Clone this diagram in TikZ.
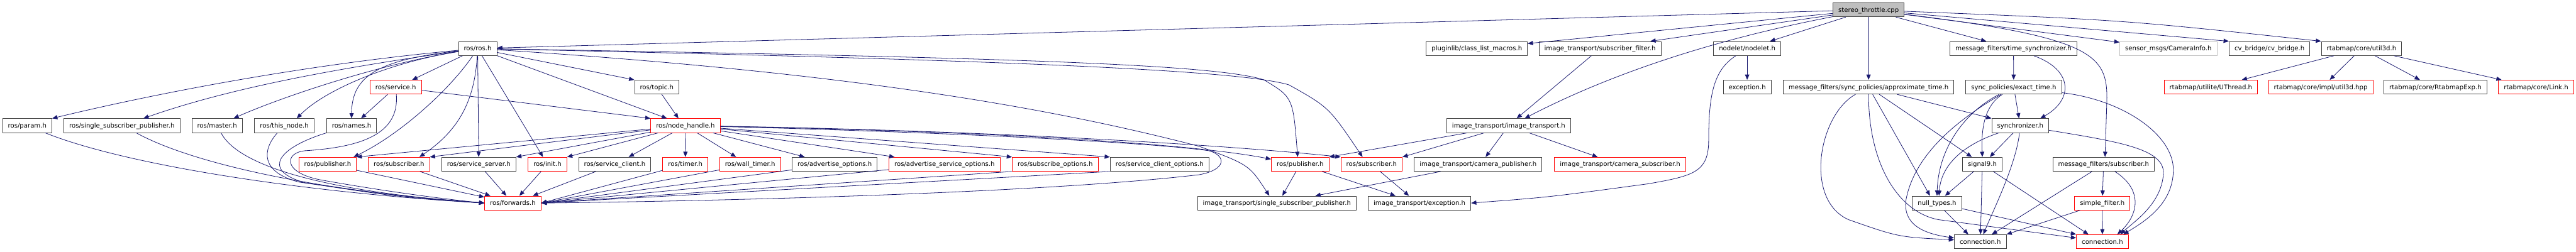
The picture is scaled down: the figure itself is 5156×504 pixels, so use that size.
\documentclass[tikz,border=0pt]{standalone}
\usepackage{fontspec}
\setmainfont{DejaVu Sans}
\usepackage{tikz}
\usetikzlibrary{arrows.meta}
\definecolor{edgeblue}{HTML}{191970}
\definecolor{boxline}{HTML}{404040}
\definecolor{shadegray}{HTML}{BFBFBF}
\newcommand{\incfont}{\fontsize{12.75pt}{15pt}\selectfont}
\tikzset{
  inc box/.style={
    draw=boxline, rectangle, line width=1.1pt,
    minimum height=28pt, inner xsep=10.8pt, inner ysep=0pt,
    text height=9.5pt, text depth=0.5pt,
    font=\incfont
  },
  red box/.style={inc box, draw=red},
  ext box/.style={inc box, draw=shadegray},
  root box/.style={inc box, fill=shadegray},
  inc arrow/.style={
    -{Triangle[length=10.5pt,width=8.5pt]}, draw=edgeblue, line width=1pt
  },
}

\begin{document}
\begin{tikzpicture}[x=1pt, y=-1pt]
  \useasboundingbox (0,0) rectangle (5156,504);

  % rank 0
  \node[root box] (st) at (3740,19.7) {stereo\_throttle.cpp};

  % rank 1
  \node[inc box] (ros) at (956,97.2) {ros/ros.h};
  \node[inc box] (plug) at (2956,97.2) {pluginlib/class\_list\_macros.h};
  \node[inc box] (isf) at (3202.5,97.2) {image\_transport/subscriber\_filter.h};
  \node[inc box] (nodelet) at (3497,97.2) {nodelet/nodelet.h};
  \node[inc box] (tsync) at (4030,97.2) {message\_filters/time\_synchronizer.h};
  \node[ext box] (caminfo) at (4340,97.2) {sensor\_msgs/CameraInfo.h};
  \node[inc box] (cvb) at (4542.5,97.2) {cv\_bridge/cv\_bridge.h};
  \node[inc box] (u3d) at (4726.7,97.2) {rtabmap/core/util3d.h};

  % rank 2
  \node[red box] (service) at (792,174.5) {ros/service.h};
  \node[inc box] (topic) at (1314.5,174.5) {ros/topic.h};
  \node[inc box] (exc) at (3497,174.5) {exception.h};
  \node[inc box] (approx) at (3740,174.5) {message\_filters/sync\_policies/approximate\_time.h};
  \node[inc box] (exact) at (4030.5,174.5) {sync\_policies/exact\_time.h};
  \node[red box] (uthread) at (4425,174.5) {rtabmap/utilite/UThread.h};
  \node[red box] (u3dhpp) at (4645,174.5) {rtabmap/core/impl/util3d.hpp};
  \node[inc box] (rexp) at (4874.5,174.5) {rtabmap/core/RtabmapExp.h};
  \node[red box] (link) at (5076,174.5) {rtabmap/core/Link.h};

  % rank 3
  \node[inc box] (param) at (54.5,251.7) {ros/param.h};
  \node[inc box] (ssp) at (244,251.7) {ros/single\_subscriber\_publisher.h};
  \node[inc box] (master) at (434.5,251.7) {ros/master.h};
  \node[inc box] (thisnode) at (569,251.7) {ros/this\_node.h};
  \node[inc box] (names) at (703.7,251.7) {ros/names.h};
  \node[red box] (nh) at (1372,251.7) {ros/node\_handle.h};
  \node[inc box] (itr) at (3019.7,251.7) {image\_transport/image\_transport.h};
  \node[inc box] (sync) at (4043.7,251.7) {synchronizer.h};

  % rank 4
  \node[red box] (pubA) at (655.7,329) {ros/publisher.h};
  \node[red box] (subA) at (798.5,329) {ros/subscriber.h};
  \node[inc box] (srvsrv) at (958.3,329) {ros/service\_server.h};
  \node[red box] (init) at (1095.8,329) {ros/init.h};
  \node[inc box] (srvcli) at (1230.3,329) {ros/service\_client.h};
  \node[red box] (timer) at (1371.8,329) {ros/timer.h};
  \node[red box] (wtimer) at (1501.3,329) {ros/wall\_timer.h};
  \node[inc box] (advopt) at (1670.7,329) {ros/advertise\_options.h};
  \node[red box] (advsrvopt) at (1890.5,329) {ros/advertise\_service\_options.h};
  \node[red box] (subopt) at (2112,329) {ros/subscribe\_options.h};
  \node[inc box] (srvcliopt) at (2321,329) {ros/service\_client\_options.h};
  \node[red box] (pubB) at (2602.3,329) {ros/publisher.h};
  \node[red box] (subB) at (2745.2,329) {ros/subscriber.h};
  \node[inc box] (campub) at (2958.5,329) {image\_transport/camera\_publisher.h};
  \node[red box] (camsub) at (3242.7,329) {image\_transport/camera\_subscriber.h};
  \node[inc box] (sig9) at (3967.7,329) {signal9.h};
  \node[inc box] (mfsub) at (4210.3,329) {message\_filters/subscriber.h};

  % rank 5
  \node[red box] (fwd) at (1026.5,406.7) {ros/forwards.h};
  \node[inc box] (itssp) at (2555.7,406.7) {image\_transport/single\_subscriber\_publisher.h};
  \node[inc box] (itexc) at (2841.2,406.7) {image\_transport/exception.h};
  \node[inc box] (nullt) at (3877,406.7) {null\_types.h};
  \node[red box] (sfilt) at (4207.8,406.7) {simple\_filter.h};

  % rank 6
  \node[inc box] (connA) at (3963.7,484) {connection.h};
  \node[red box] (connB) at (4208,484) {connection.h};

  % stereo_throttle.cpp
  \draw[inc arrow] (st) -- (ros);
  \draw[inc arrow] (st) -- (plug);
  \draw[inc arrow] (st) -- (isf);
  \draw[inc arrow] (st) .. controls (3400,85) and (3200,160) .. ([xshift=32pt]itr.north);
  \draw[inc arrow] (st) -- (nodelet);
  \draw[inc arrow] (st) -- (approx);
  \draw[inc arrow] (st) -- (tsync);
  \draw[inc arrow] (st) -- (caminfo);
  \draw[inc arrow] (st) -- (cvb.north west);
  \draw[inc arrow] (st) .. controls (4250,40) .. (u3d.north west);
  \draw[inc arrow] (st) .. controls (4190,75) and (4218,110) .. (4217,200) -- ([xshift=3pt]mfsub.north);

  % ros/ros.h
  \draw[inc arrow] (ros) .. controls (600,130) and (300,190) .. (param.north east);
  \draw[inc arrow] (ros) .. controls (650,140) and (450,180) .. ([xshift=43pt]ssp.north);
  \draw[inc arrow] (ros) .. controls (750,130) and (550,200) .. ([xshift=33pt]master.north);
  \draw[inc arrow] (ros) .. controls (780,125) and (650,180) .. ([xshift=25pt]thisnode.north);
  \draw[inc arrow] (ros) .. controls (760,120) and (704,150) .. (names.north);
  \draw[inc arrow] (ros) -- ([xshift=33pt]service.north);
  \draw[inc arrow] (ros) -- (topic.north west);
  \draw[inc arrow] (ros) -- ([xshift=-37pt]nh.north);
  \draw[inc arrow] (ros) -- (srvsrv);
  \draw[inc arrow] (ros) -- ([xshift=-9pt]init.north);
  \draw[inc arrow] (ros) .. controls (900,180) and (800,270) .. ([xshift=52pt]pubA.north);
  \draw[inc arrow] (ros) .. controls (950,200) and (920,260) .. ([xshift=41pt]subA.north);
  \draw[inc arrow] (ros) .. controls (2000,115) and (2430,128) .. (2530,160) .. controls (2588,195) .. ([xshift=-5pt]pubB.north);
  \draw[inc arrow] (ros) .. controls (2000,120) and (2480,140) .. (2580,170) .. controls (2660,215) .. ([xshift=-18pt]subB.north);
  \draw[inc arrow] (ros) .. controls (1700,145) and (2100,215) .. (2400,293) .. controls (2500,330) .. ([xshift=-15pt]itssp.north);

  % ros/service.h, ros/topic.h
  \draw[inc arrow] (service) -- ([xshift=19pt]names.north);
  \draw[inc arrow] (service) -- (nh.north west);
  \draw[inc arrow] (service) .. controls (800,270) and (720,295) .. (610,302) .. controls (570,306) and (565,345) .. (640,360) .. controls (780,385) and (900,400) .. (fwd.west);
  \draw[inc arrow] (topic) -- ([xshift=-14pt]nh.north);

  % rank 3 into ros/forwards.h
  \draw[inc arrow] (param) .. controls (250,330) and (600,385) .. (fwd.west);
  \draw[inc arrow] ([xshift=29pt]ssp.south) .. controls (370,320) and (600,380) .. (fwd.west);
  \draw[inc arrow] ([xshift=8pt]master.south) .. controls (470,320) and (600,380) .. (fwd.west);
  \draw[inc arrow] ([xshift=-14pt]thisnode.south) .. controls (525,300) and (520,345) .. (600,365) .. controls (800,393) .. (fwd.west);
  \draw[inc arrow] (names.south west) .. controls (560,295) and (520,340) .. (610,366) .. controls (800,395) .. (fwd.west);

  % ros/node_handle.h
  \draw[inc arrow] (nh) -- (pubA.north east);
  \draw[inc arrow] (nh) -- (subA.north east);
  \draw[inc arrow] (nh) -- (srvsrv.north east);
  \draw[inc arrow] (nh) -- (init.north east);
  \draw[inc arrow] (nh) -- ([xshift=28pt]srvcli.north);
  \draw[inc arrow] (nh) -- (timer);
  \draw[inc arrow] (nh) -- ([xshift=-28pt]wtimer.north);
  \draw[inc arrow] (nh) -- ([xshift=-60pt]advopt.north);
  \draw[inc arrow] (nh) -- ([xshift=-100pt]advsrvopt.north);
  \draw[inc arrow] (nh) -- (subopt.north west);
  \draw[inc arrow] (nh) -- (srvcliopt.north west);
  \draw[inc arrow] (nh) .. controls (1900,262) and (2350,282) .. (pubB.170);
  \draw[inc arrow] (nh) .. controls (1900,260) and (2400,285) .. (subB.north west);
  \draw[inc arrow] (nh) .. controls (1900,265) and (2300,285) .. (2420,302) .. controls (2455,312) and (2455,340) .. (2400,350) .. controls (2100,385) and (1500,402) .. (fwd.east);

  % rank 4 into ros/forwards.h
  \draw[inc arrow] (pubA) -- (fwd);
  \draw[inc arrow] (subA) -- ([xshift=-45pt]fwd.north);
  \draw[inc arrow] (srvsrv) -- ([xshift=-13pt]fwd.north);
  \draw[inc arrow] (init) -- ([xshift=13pt]fwd.north);
  \draw[inc arrow] (srvcli) -- ([xshift=40pt]fwd.north);
  \draw[inc arrow] (timer) -- (fwd.east);
  \draw[inc arrow] (wtimer) -- (fwd.east);
  \draw[inc arrow] (advopt) -- (fwd.east);
  \draw[inc arrow] (advsrvopt) -- (fwd.east);
  \draw[inc arrow] (subopt.south west) -- (fwd.east);
  \draw[inc arrow] (srvcliopt.south west) -- (fwd.east);

  % image_transport
  \draw[inc arrow] (isf) -- ([xshift=16pt]itr.north);
  \draw[inc arrow] (itr) -- (pubB.north east);
  \draw[inc arrow] (itr) -- (subB.north east);
  \draw[inc arrow] (itr) -- ([xshift=15pt]campub.north);
  \draw[inc arrow] (itr) -- ([xshift=-45pt]camsub.north);
  \draw[inc arrow] (campub) -- ([xshift=77pt]itssp.north);
  \draw[inc arrow] (pubB) -- ([xshift=11pt]itssp.north);
  \draw[inc arrow] (pubB) -- ([xshift=-48pt]itexc.north);
  \draw[inc arrow] (subB) -- ([xshift=-21pt]itexc.north);

  % nodelet
  \draw[inc arrow] (nodelet) -- (exc);
  \draw[inc arrow] (nodelet) .. controls (3430,140) and (3420,190) .. (3420,280) .. controls (3420,345) and (3390,352) .. (3300,368) .. controls (3100,395) .. (itexc.east);

  % message_filters
  \draw[inc arrow] (tsync) -- (exact);
  \draw[inc arrow] (tsync) .. controls (4150,140) and (4150,200) .. ([xshift=40pt]sync.north);
  \draw[inc arrow] (approx) -- (sync.north west);
  \draw[inc arrow] (approx) -- ([xshift=-21pt]sig9.north);
  \draw[inc arrow] (approx) -- ([xshift=-14pt]nullt.north);
  \draw[inc arrow] (approx) .. controls (3640,230) and (3610,400) .. (3700,440) .. controls (3800,475) .. (connA.176);
  \draw[inc arrow] (approx) .. controls (3740,330) and (3800,425) .. (3880,440) -- (connB.172);
  \draw[inc arrow] (exact) -- (sync);
  \draw[inc arrow] (exact) .. controls (3975,210) and (3965,250) .. (sig9.north);
  \draw[inc arrow] (exact) .. controls (3940,220) and (3880,290) .. (nullt.north);
  \draw[inc arrow] (exact) .. controls (3900,250) and (3830,320) .. (3815,400) .. controls (3808,450) and (3850,468) .. (connA.172);
  \draw[inc arrow] (exact) .. controls (4250,200) and (4350,270) .. (4350,340) .. controls (4350,410) and (4290,445) .. ([xshift=42pt]connB.north);
  \draw[inc arrow] (sync) -- ([xshift=15pt]sig9.north);
  \draw[inc arrow] (sync) .. controls (3930,290) and (3885,330) .. ([xshift=4pt]nullt.north);
  \draw[inc arrow] (sync) .. controls (4035,330) and (3990,420) .. ([xshift=6pt]connA.north);
  \draw[inc arrow] (sync) .. controls (4250,285) and (4335,300) .. (4330,350) .. controls (4325,410) and (4270,445) .. ([xshift=36pt]connB.north);
  \draw[inc arrow] (sig9) -- ([xshift=16pt]nullt.north);
  \draw[inc arrow] (sig9) -- (connA);
  \draw[inc arrow] (sig9) -- ([xshift=-28pt]connB.north);
  \draw[inc arrow] (nullt) -- ([xshift=-24pt]connA.north);
  \draw[inc arrow] (nullt) -- (connB.north west);
  \draw[inc arrow] (mfsub) -- (sfilt);
  \draw[inc arrow] (mfsub) -- ([xshift=23pt]connA.north);
  \draw[inc arrow] (mfsub) .. controls (4290,380) and (4280,430) .. ([xshift=30pt]connB.north);
  \draw[inc arrow] (sfilt) -- (connA.north east);
  \draw[inc arrow] (sfilt) -- (connB);

  % rtabmap
  \draw[inc arrow] (u3d) -- ([xshift=62pt]uthread.north);
  \draw[inc arrow] (u3d) -- ([xshift=18pt]u3dhpp.north);
  \draw[inc arrow] (u3d) -- ([xshift=-31pt]rexp.north);
  \draw[inc arrow] (u3d) -- ([xshift=-69pt]link.north);

\end{tikzpicture}
\end{document}
